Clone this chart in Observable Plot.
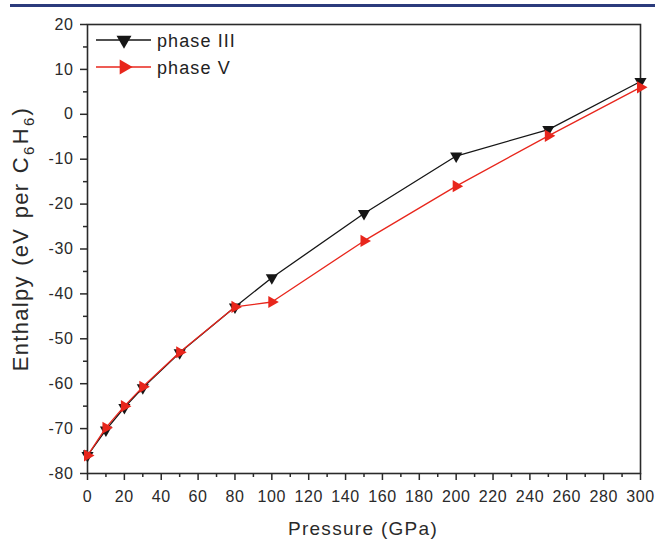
<!DOCTYPE html>
<html><head><meta charset="utf-8">
<script src="https://cdn.jsdelivr.net/npm/d3@7"></script>
<script src="https://cdn.jsdelivr.net/npm/@observablehq/plot@0.6"></script>
<style>
html,body{margin:0;padding:0;background:#fff;}
#wrap{position:relative;width:655px;height:539px;overflow:hidden;background:#fff;}
#bar{position:absolute;left:10px;top:4px;width:645px;height:2.5px;background:#2b3b7c;}
#wrap svg{position:absolute;left:0;top:0;}
</style></head><body><div id="wrap"><div id="bar"></div></div>
<script>
// ---- data ----
const pressure = [0, 10, 20, 30, 50, 80, 100, 150, 200, 250, 300];
const phaseIII = [-76, -70.3, -65.3, -60.9, -53.1, -42.9, -36.4, -22.1, -9.3, -3.4, 7.3];
const phaseV   = [-76, -69.8, -65.0, -60.7, -53.0, -42.9, -41.8, -28.2, -16.0, -4.8, 6.0];
const seriesNames = ["phase III", "phase V"];
const seriesColors = ["#161616", "#e8261c"];
const xMajor = d3.range(0, 301, 20);
const xMinor = d3.range(10, 300, 20);
const yMajor = d3.range(-80, 21, 10);
const yMinor = d3.range(-75, 20, 10);
const xLabel = "Pressure (GPa)";
const yLabelParts = [["Enthalpy (eV per C", false], ["6", true], ["H", false], ["6", true], [")", false]];

const dataIII = pressure.map((p, i) => ({p, h: phaseIII[i]}));
const dataV = pressure.map((p, i) => ({p, h: phaseV[i]}));
const axisColor = "#2a2a2a";

const chart = Plot.plot({
  width: 655, height: 539,
  marginLeft: 87, marginRight: 15, marginTop: 24, marginBottom: 66,
  x: {domain: [0, 300]},
  y: {domain: [-80, 20]},
  style: {fontFamily: "'Liberation Sans', Arial, sans-serif", fontSize: "16px", color: axisColor, background: "transparent", overflow: "visible"},
  marks: [
    Plot.axisX({ticks: xMinor, tickSize: 4, text: null, label: null, strokeWidth: 1.5}),
    Plot.axisX({ticks: xMajor, tickSize: 7, tickPadding: 10.5, label: null, tickFormat: d => String(d), strokeWidth: 1.5}),
    Plot.axisY({ticks: yMinor, tickSize: 4, text: null, label: null, strokeWidth: 1.5}),
    Plot.axisY({ticks: yMajor, tickSize: 7, tickPadding: 7, label: null, tickFormat: d => String(d), strokeWidth: 1.5}),
    Plot.frame({stroke: axisColor, strokeWidth: 1.6}),
    Plot.line(dataIII, {x: "p", y: "h", stroke: seriesColors[0], strokeWidth: 1.3}),
    Plot.dot(dataIII, {x: "p", y: "h", symbol: "triangle", rotate: 180, r: 4.5, fill: seriesColors[0], stroke: "none"}),
    Plot.line(dataV, {x: "p", y: "h", stroke: seriesColors[1], strokeWidth: 1.3}),
    Plot.dot(dataV, {x: "p", y: "h", symbol: "triangle", rotate: 90, r: 4.5, fill: seriesColors[1], stroke: "none"})
  ]
});
document.getElementById("wrap").appendChild(chart);

const svg = d3.select(chart);
svg.selectAll('g[aria-label$="tick label"] text').style("letter-spacing", "0.6px");

// x label
svg.append("text")
  .attr("x", 363).attr("y", 535)
  .attr("text-anchor", "middle")
  .attr("fill", axisColor)
  .style("font-size", "19px").style("letter-spacing", "1.3px")
  .text(xLabel);

// y label with subscripts
const yl = svg.append("text")
  .attr("transform", "translate(28,239) rotate(-90)")
  .attr("text-anchor", "middle")
  .attr("fill", axisColor)
  .style("font-size", "22px").style("letter-spacing", "1.3px").style("word-spacing", "2px");
yLabelParts.forEach(([t, sub], i) => {
  const ts = yl.append("tspan").text(t);
  if (sub) ts.attr("dy", 6).attr("dx", 1).style("font-size", "15px");
  else if (i > 0) ts.attr("dy", -6).attr("dx", 1);
});

// legend
const leg = svg.append("g");
const legRows = [40, 67];
const legRot = [180, 90];
seriesNames.forEach((name, i) => {
  const g = leg.append("g");
  g.append("line").attr("x1", 96).attr("x2", 151).attr("y1", legRows[i]).attr("y2", legRows[i])
    .attr("stroke", seriesColors[i]).attr("stroke-width", 1.3);
  g.append("path").attr("d", d3.symbol(d3.symbolTriangle, 97)())
    .attr("transform", `translate(124,${legRows[i]}) rotate(${legRot[i]})`)
    .attr("fill", seriesColors[i]);
  g.append("text").attr("x", 157).attr("y", legRows[i] + 6.5)
    .attr("text-anchor", "start")
    .attr("fill", "#222").style("font-size", "18px").style("letter-spacing", "1.1px")
    .text(name);
});
</script>
</body></html>
